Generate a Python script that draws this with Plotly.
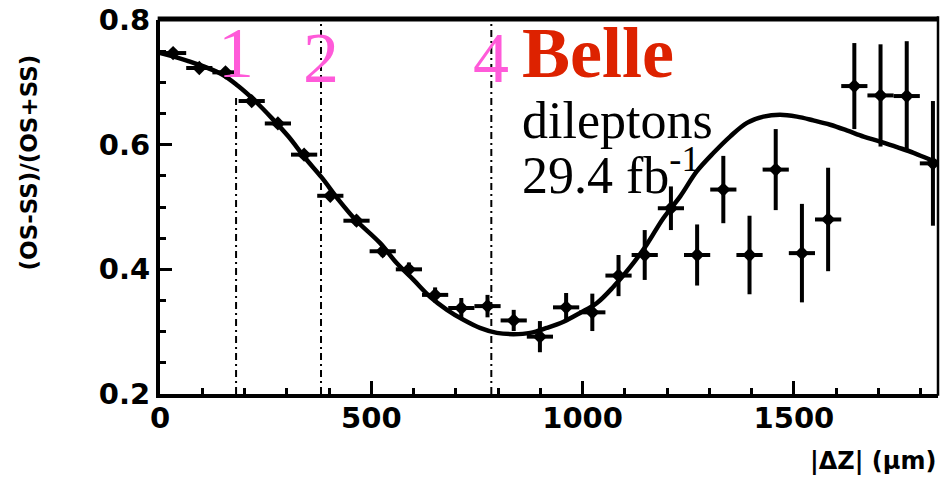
import plotly.graph_objects as go

# ---- data ----
dz_centers = [31, 93, 155, 217, 279, 341, 403, 465, 527, 589,
              651, 713, 775, 837, 899, 961, 1023, 1085, 1147, 1209,
              1271, 1333, 1395, 1457, 1519, 1581, 1643, 1705, 1767, 1829]
asym = [0.747, 0.723, 0.716, 0.670, 0.634, 0.584, 0.518, 0.478, 0.429, 0.400,
        0.359, 0.338, 0.341, 0.318, 0.292, 0.339, 0.331, 0.390, 0.423, 0.498,
        0.423, 0.528, 0.423, 0.560, 0.426, 0.480, 0.694, 0.679, 0.678, 0.570]
asym_err = [0.005, 0.005, 0.005, 0.006, 0.006, 0.007, 0.007, 0.008, 0.009, 0.011,
            0.012, 0.016, 0.018, 0.017, 0.025, 0.023, 0.030, 0.033, 0.040, 0.035,
            0.049, 0.054, 0.063, 0.065, 0.079, 0.083, 0.069, 0.082, 0.088, 0.100]
bin_half_width = [31] * 30

fit_x = [0, 67, 146, 185, 225, 264, 304, 343, 383, 422, 462, 521, 560, 600, 639,
         679, 718, 757, 797, 836, 876, 915, 955, 994, 1034, 1073, 1112, 1152, 1191,
         1231, 1270, 1310, 1349, 1389, 1428, 1467, 1507, 1546, 1586, 1625, 1665,
         1704, 1744, 1783, 1822, 1841]
fit_y = [0.747, 0.734, 0.713, 0.694, 0.670, 0.643, 0.613, 0.579, 0.547, 0.512,
         0.480, 0.442, 0.410, 0.383, 0.356, 0.335, 0.319, 0.306, 0.298, 0.296,
         0.298, 0.306, 0.316, 0.330, 0.346, 0.372, 0.403, 0.440, 0.482, 0.517,
         0.557, 0.587, 0.613, 0.635, 0.645, 0.648, 0.645, 0.639, 0.632, 0.623,
         0.613, 0.605, 0.596, 0.587, 0.576, 0.571]

marker_x = [180, 381, 784]
marker_labels = ["1", "2", "4"]
marker_line_top = [0.680, 0.8, 0.8]

x_tickvals = [0, 500, 1000, 1500]
y_tickvals = [0.2, 0.4, 0.6, 0.8]

fig = go.Figure()

# vertical dash-dot lines
for xv, top in zip(marker_x, marker_line_top):
    fig.add_trace(go.Scatter(
        x=[xv, xv], y=[0.2, top], mode="lines",
        line=dict(color="black", width=2, dash="7px,4px,2px,4px"),
        hoverinfo="skip", showlegend=False))

# fit curve
fig.add_trace(go.Scatter(
    x=fit_x, y=fit_y, mode="lines", line=dict(color="black", width=4.5, shape="spline"),
    showlegend=False))

# data points
fig.add_trace(go.Scatter(
    x=dz_centers, y=asym, mode="markers",
    marker=dict(color="black", size=11, symbol="diamond"),
    error_y=dict(type="data", array=asym_err, color="black", thickness=4, width=0),
    error_x=dict(type="data", array=bin_half_width, color="black", thickness=4, width=0),
    showlegend=False))

tickfont = dict(family="DejaVu Sans", size=29, color="black", weight="bold")

fig.update_xaxes(
    range=[0, 1841], showline=True, linewidth=4, linecolor="black", mirror=False,
    ticks="inside", ticklen=13, tickwidth=3, tickcolor="black",
    tickvals=x_tickvals, ticktext=[str(v) for v in x_tickvals],
    minor=dict(dtick=100, ticks="inside", ticklen=6, tickwidth=3, tickcolor="black"),
    showgrid=False, zeroline=False, tickfont=tickfont, ticklabelstandoff=-5,
    ticklabeloverflow="allow", automargin=False)
fig.update_yaxes(
    range=[0.2, 0.8], showline=True, linewidth=4, linecolor="black", mirror=False,
    ticks="inside", ticklen=12, tickwidth=3, tickcolor="black",
    tickvals=y_tickvals, ticktext=["0.2", "0.4", "0.6", "0.8"],
    minor=dict(dtick=0.05, ticks="inside", ticklen=6, tickwidth=3, tickcolor="black"),
    showgrid=False, zeroline=False, tickfont=tickfont, ticklabelstandoff=0,
    ticklabeloverflow="allow", automargin=False)

# top and right frame lines
fig.add_shape(type="line", xref="paper", yref="paper", x0=-0.003, x1=1.0, y0=1.003, y1=1.003,
              line=dict(color="black", width=5), layer="above")
fig.add_shape(type="line", xref="paper", yref="paper", x0=1.0, x1=1.0, y0=-0.005, y1=1.01,
              line=dict(color="black", width=2.5), layer="above")

serif = "Liberation Serif"
magenta = "#ff5ad9"
for xv, lab, yb in zip(marker_x, marker_labels, [0.679, 0.671, 0.671]):
    fig.add_annotation(x=xv, y=yb, text=lab, showarrow=False, xanchor="center", yanchor="bottom",
                       font=dict(family=serif, size=72, color=magenta))

fig.add_annotation(x=852, y=0.679, text="<b>Belle</b>", showarrow=False,
                   xanchor="left", yanchor="bottom",
                   font=dict(family=serif, size=72, color="#dd2200"))
fig.add_annotation(x=852, y=0.590, text="dileptons", showarrow=False,
                   xanchor="left", yanchor="bottom",
                   font=dict(family=serif, size=52, color="black"))
fig.add_annotation(x=852, y=0.502, text="29.4 fb<sup>-1</sup>", showarrow=False,
                   xanchor="left", yanchor="bottom",
                   font=dict(family=serif, size=52, color="black"))

titlefont = dict(family="DejaVu Sans", size=23, color="black", weight="bold")
fig.add_annotation(xref="paper", yref="paper", x=-0.168, y=0.62, text="(OS-SS)/(OS+SS)",
                   textangle=-90, showarrow=False, xanchor="center", yanchor="middle",
                   font=titlefont)
fig.add_annotation(xref="paper", yref="paper", x=1.0, y=-0.179, text="|ΔZ| (µm)",
                   showarrow=False, xanchor="right", yanchor="middle",
                   font=dict(family="DejaVu Sans", size=24, color="black", weight="bold"))

fig.update_layout(
    width=941, height=483,
    margin=dict(l=160, r=3, t=20, b=89, autoexpand=False),
    paper_bgcolor="white", plot_bgcolor="white",
)

# remove the browser's default 8px body margin so the figure fills the window exactly
fig.write_html(
    "out.html",
    config={"displayModeBar": False},
    post_script="document.body.style.margin='0';document.body.style.overflow='hidden';",
)
